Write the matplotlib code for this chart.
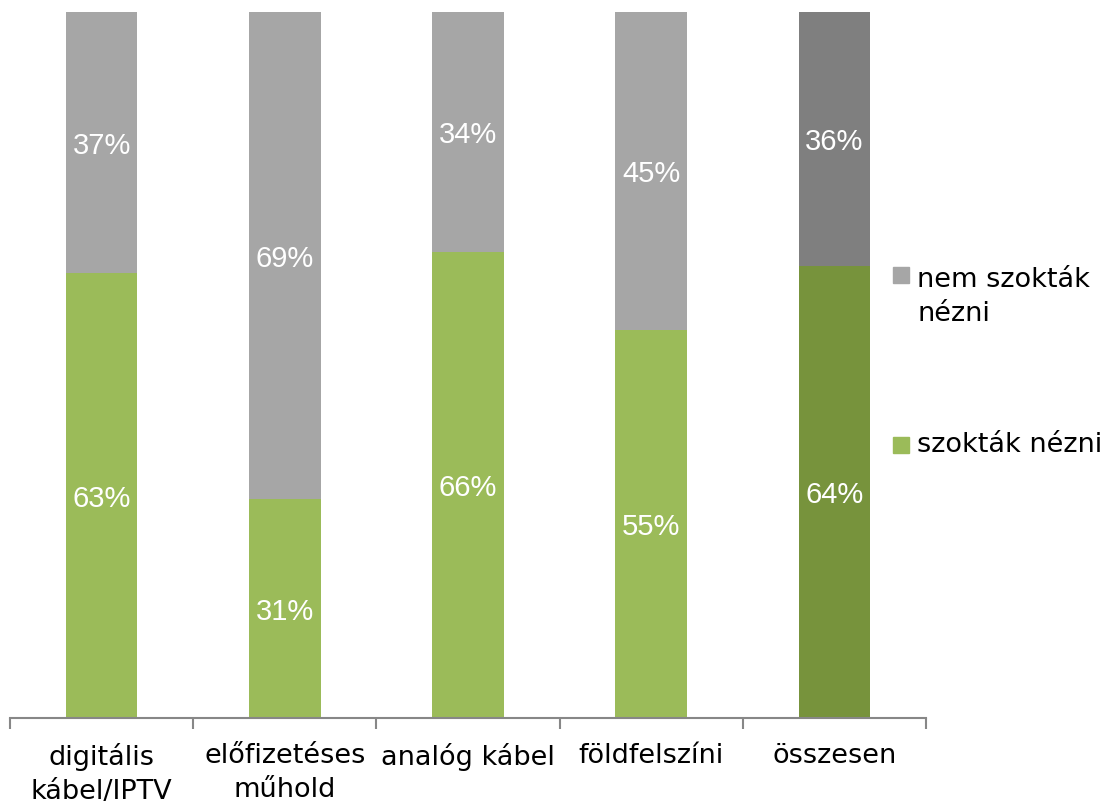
import matplotlib
matplotlib.use("Agg")
import matplotlib.pyplot as plt
from matplotlib.patches import Rectangle

categories = ["digitális\nkábel/IPTV", "előfizetéses\nműhold", "analóg kábel", "földfelszíni", "összesen"]
watch = [63, 31, 66, 55, 64]
not_watch = [37, 69, 34, 45, 36]
series_labels = ["szokták nézni", "nem szokták\nnézni"]

green = ["#9BBB59"] * 4 + ["#77933C"]
gray = ["#A6A6A6"] * 4 + ["#7F7F7F"]

plt.rcParams['font.family'] = ['DejaVu Sans']

fig = plt.figure(figsize=(11.04, 8.09), dpi=100)
W, H = 1104, 809
ax = fig.add_axes([10 / W, (H - 718) / H, 916 / W, 706 / H])

x = list(range(len(categories)))
ax.bar(x, watch, width=0.39, color=green, zorder=2)
ax.bar(x, not_watch, width=0.39, bottom=watch, color=gray, zorder=2)

pct_font = ['Liberation Sans', 'DejaVu Sans']
for xi, w, n in zip(x, watch, not_watch):
    ax.text(xi, w / 2, f"{w}%", ha="center", va="center_baseline", color="white",
            fontsize=21, family=pct_font)
    ax.text(xi, w + n / 2, f"{n}%", ha="center", va="center_baseline", color="white",
            fontsize=21, family=pct_font)

ax.set_xlim(-0.5, len(categories) - 0.5)
ax.set_ylim(0, 100)
for s in ["top", "right", "left"]:
    ax.spines[s].set_visible(False)
ax.spines["bottom"].set_color("#878787")
ax.spines["bottom"].set_linewidth(1.5)
ax.set_yticks([])
ax.set_xticks([i - 0.5 for i in range(len(categories) + 1)], minor=False)
ax.set_xticklabels([])
ax.tick_params(axis="x", which="major", length=8, width=1.5, color="#878787")
ax.set_xticks(x, minor=True)
ax.set_xticklabels(categories, minor=True, fontsize=19.5, linespacing=1.38)
ax.tick_params(axis="x", which="minor", length=0, pad=18)

# legend (manual)
fig.patches.append(Rectangle((893 / W, (H - 283) / H), 16 / W, 16 / H,
                             transform=fig.transFigure, color=gray[0]))
fig.text(917 / W, (H - 297) / H, series_labels[1], ha="left", va="center",
         fontsize=19.5, linespacing=1.42)
fig.patches.append(Rectangle((893 / W, (H - 453) / H), 16 / W, 16 / H,
                             transform=fig.transFigure, color=green[0]))
fig.text(917 / W, (H - 445) / H, series_labels[0], ha="left", va="center",
         fontsize=19.5)

fig.savefig("out.png", dpi=100)
